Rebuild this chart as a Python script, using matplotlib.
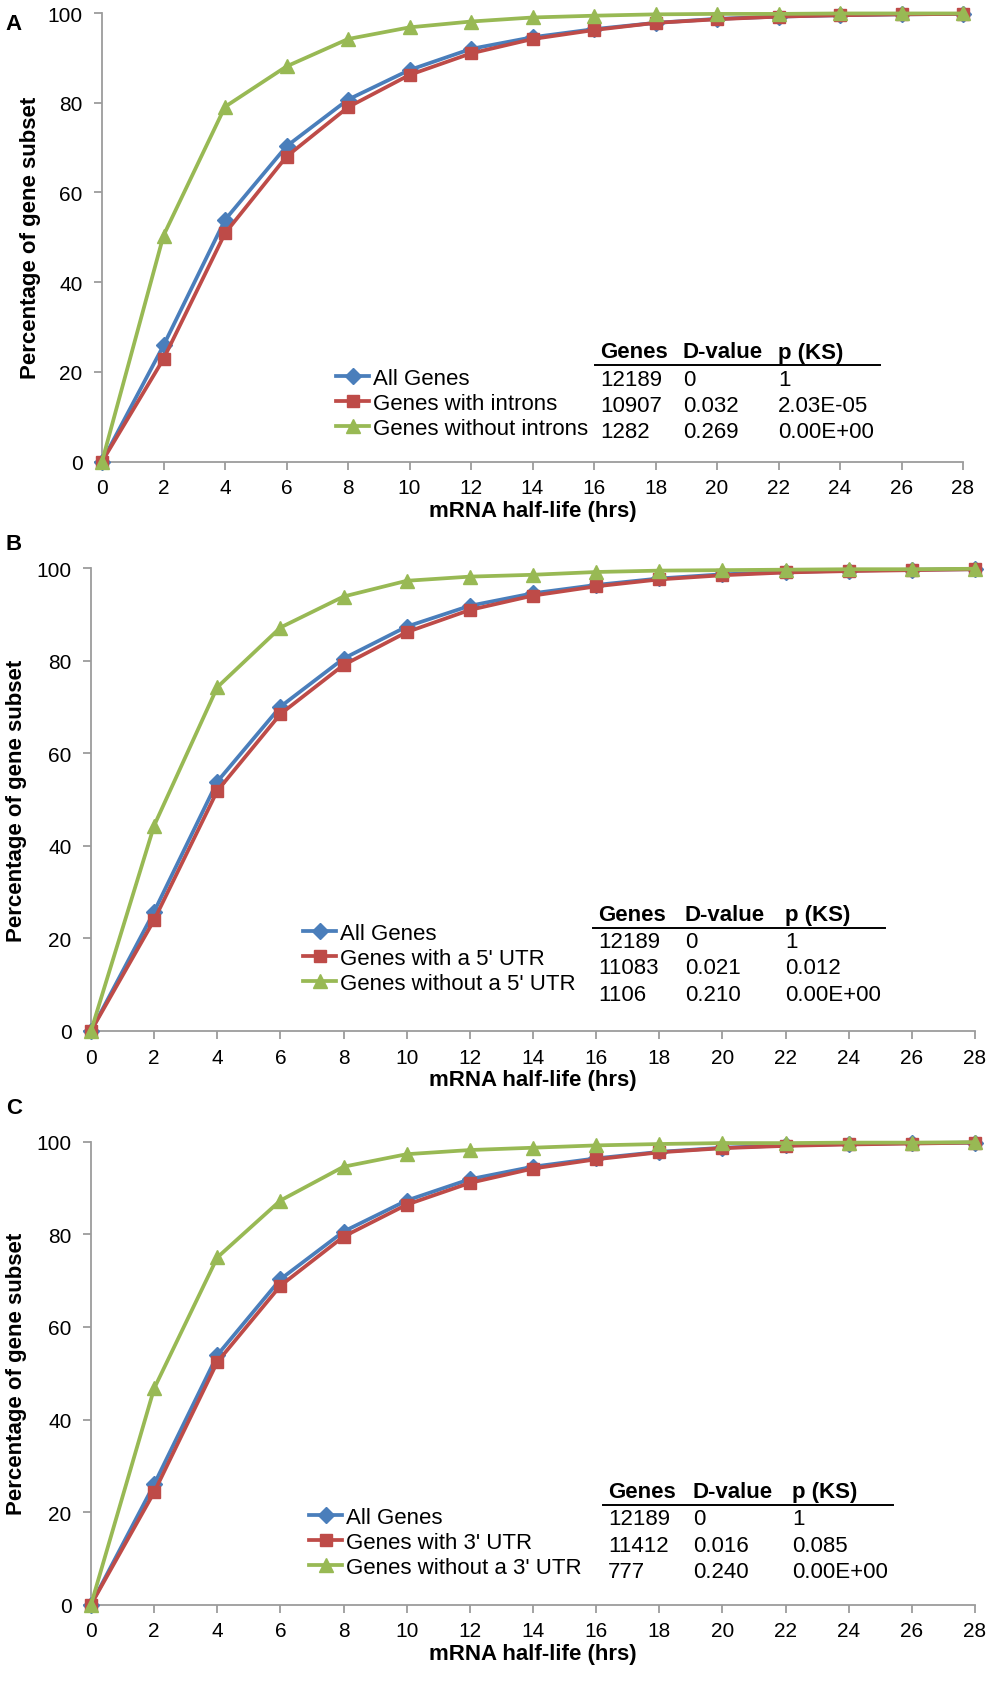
import matplotlib
matplotlib.use('Agg')
import matplotlib.pyplot as plt
from matplotlib.lines import Line2D

plt.rcParams['font.family'] = ['Liberation Sans', 'DejaVu Sans']

W, H = 992, 1683

hours = [0, 2, 4, 6, 8, 10, 12, 14, 16, 18, 20, 22, 24, 26, 28]

# panel A - introns
a_all = [0, 25.9, 53.9, 70.3, 80.7, 87.3, 92.0, 94.6, 96.4, 97.8, 98.7, 99.2, 99.5, 99.7, 99.8]
a_with = [0, 22.9, 50.9, 68.0, 79.0, 86.2, 91.0, 94.2, 96.2, 97.8, 98.6, 99.2, 99.5, 99.7, 99.8]
a_without = [0, 50.4, 79.1, 88.1, 94.2, 96.8, 98.1, 99.0, 99.4, 99.7, 99.8, 99.8, 99.9, 99.9, 99.9]
a_labels = ['All Genes', 'Genes with introns', 'Genes without introns']
a_table = [['12189', '0', '1'], ['10907', '0.032', '2.03E-05'], ['1282', '0.269', '0.00E+00']]

# panel B - 5' UTR
b_all = [0, 25.8, 53.9, 70.1, 80.5, 87.4, 91.9, 94.6, 96.4, 97.8, 98.7, 99.2, 99.5, 99.7, 99.8]
b_with = [0, 24.0, 51.9, 68.5, 79.1, 86.2, 91.0, 94.1, 96.1, 97.6, 98.5, 99.1, 99.4, 99.6, 99.8]
b_without = [0, 44.4, 74.3, 87.2, 93.9, 97.3, 98.2, 98.6, 99.2, 99.5, 99.6, 99.7, 99.8, 99.8, 99.9]
b_labels = ['All Genes', "Genes with a 5' UTR", "Genes without a 5' UTR"]
b_table = [['12189', '0', '1'], ['11083', '0.021', '0.012'], ['1106', '0.210', '0.00E+00']]

# panel C - 3' UTR
c_all = [0, 26.0, 53.9, 70.3, 80.6, 87.3, 91.9, 94.6, 96.4, 97.8, 98.7, 99.2, 99.5, 99.7, 99.8]
c_with = [0, 24.3, 52.4, 68.9, 79.5, 86.4, 91.1, 94.2, 96.2, 97.7, 98.6, 99.1, 99.4, 99.6, 99.8]
c_without = [0, 46.7, 75.0, 87.3, 94.6, 97.3, 98.2, 98.7, 99.2, 99.5, 99.7, 99.7, 99.8, 99.8, 99.9]
c_labels = ['All Genes', "Genes with 3' UTR", "Genes without a 3' UTR"]
c_table = [['12189', '0', '1'], ['11412', '0.016', '0.085'], ['777', '0.240', '0.00E+00']]

table_head = ['Genes', 'D-value', 'p (KS)']

BLUE = '#4A7EBB'
RED = '#BE4B48'
GREEN = '#98B954'
AXC = '#9C9C9C'


def px(x, y):
    return x / W, 1 - y / H


def plotPanel(fig, rect, letter, letter_y, ylab_x, series, labels, table, leg_xy, cols, rows_y, line_x):
    ax = fig.add_axes(rect)
    ax.plot(hours, series[0], color=BLUE, lw=2.7, marker='D', ms=8, mec=BLUE, clip_on=False, zorder=3)
    ax.plot(hours, series[1], color=RED, lw=2.7, marker='s', ms=9, mec=RED, clip_on=False, zorder=4)
    ax.plot(hours, series[2], color=GREEN, lw=2.7, marker='^', ms=10, mec=GREEN, clip_on=False, zorder=5)
    ax.set_xlim(0, 28)
    ax.set_ylim(0, 100)
    ax.set_xticks(range(0, 29, 2))
    ax.set_yticks(range(0, 101, 20))
    for s in ['top', 'right']:
        ax.spines[s].set_visible(False)
    for s in ['left', 'bottom']:
        ax.spines[s].set_color(AXC)
        ax.spines[s].set_linewidth(1.3)
    ax.tick_params(axis='both', colors=AXC, labelcolor='black', labelsize=15, length=6, width=1.3)
    ax.tick_params(axis='x', pad=6)
    ax.tick_params(axis='y', pad=8)
    ax.set_xlabel('mRNA half-life (hrs)', fontsize=16, fontweight='bold', labelpad=2)
    ax.set_ylabel('Percentage of gene subset', fontsize=16, fontweight='bold')
    ax.yaxis.set_label_coords(ylab_x, rect[1] + rect[3] / 2, transform=fig.transFigure)

    fig.text(*px(14, letter_y), letter, fontsize=16, fontweight='bold', ha='center', va='center')

    ax.legend(labels, loc='upper left', bbox_to_anchor=px(*leg_xy), bbox_transform=fig.transFigure,
              frameon=False, fontsize=16, handlelength=1.5, handletextpad=0.15,
              labelspacing=0.17, borderpad=0, borderaxespad=0)

    # small stats table next to the legend
    hy = rows_y[0] - 27
    for j, h in enumerate(table_head):
        fig.text(*px(cols[j], hy), h, fontsize=16, fontweight='bold', ha='left', va='center')
    fig.add_artist(Line2D([line_x[0] / W, line_x[1] / W], [1 - (hy + 13) / H] * 2, color='black', lw=1.4))
    for i, row in enumerate(table):
        for j, val in enumerate(row):
            fig.text(*px(cols[j], rows_y[i]), val, fontsize=16, ha='left', va='center')
    return ax


fig = plt.figure(figsize=(W / 100, H / 100), dpi=100)

plotPanel(fig, [102 / W, 1 - 462.7 / H, 861 / W, 448.7 / H], 'A', 24, 41 / W,
          [a_all, a_with, a_without], a_labels, a_table,
          (336, 369), [600, 683, 778], [380, 406, 432], (595, 880))
plotPanel(fig, [91 / W, 1 - 1032 / H, 884 / W, 462.7 / H], 'B', 544, 27 / W,
          [b_all, b_with, b_without], b_labels, b_table,
          (303, 924), [598, 685, 785], [943, 969, 996], (593, 885))
plotPanel(fig, [91 / W, 1 - 1605.7 / H, 884 / W, 463 / H], 'C', 1108, 27 / W,
          [c_all, c_with, c_without], c_labels, c_table,
          (309, 1508), [608, 693, 792], [1520, 1547, 1573], (603, 893))

plt.savefig('out.png', dpi=100)
